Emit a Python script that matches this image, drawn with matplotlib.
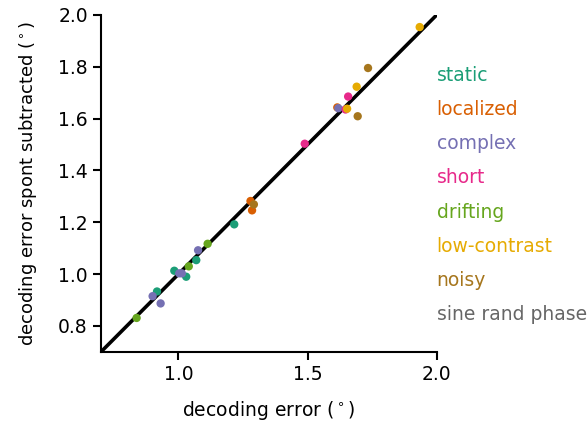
import numpy as np
import matplotlib.pyplot as plt

stim_names = ['static', 'localized', 'complex', 'short', 'drifting',
              'low-contrast', 'noisy', 'sine rand phase']
colors = ['#1b9e77', '#d95f02', '#7570b3', '#e7298a', '#66a61e',
          '#e6ab02', '#a6761d', '#666666']

# decoding error (x) and spont-subtracted decoding error (y), per stimulus set
err = {
    'static':          [1.216, 1.069, 0.984, 1.030, 0.917],
    'localized':       [1.279, 1.285, 1.615],
    'complex':         [1.076, 1.003, 1.013, 0.900, 0.931, 1.619],
    'short':           [1.657, 1.647, 1.489],
    'drifting':        [1.113, 1.040, 0.838],
    'low-contrast':    [1.934, 1.690, 1.653],
    'noisy':           [1.734, 1.694, 1.292],
    'sine rand phase': [],
}
err_sub = {
    'static':          [1.192, 1.054, 1.013, 0.990, 0.933],
    'localized':       [1.282, 1.246, 1.643],
    'complex':         [1.092, 1.003, 1.003, 0.915, 0.887, 1.640],
    'short':           [1.685, 1.635, 1.503],
    'drifting':        [1.117, 1.030, 0.831],
    'low-contrast':    [1.953, 1.723, 1.638],
    'noisy':           [1.795, 1.609, 1.269],
    'sine rand phase': [],
}

plt.rcParams['font.size'] = 13.5

fig = plt.figure(figsize=(5.87, 4.25), dpi=100)
ax = fig.add_axes([0.172, 0.172, 0.572, 0.793])

ax.plot([0.7, 2.0], [0.7, 2.0], color='k', lw=2.6, zorder=1)
for k, name in enumerate(stim_names):
    ax.scatter(err[name], err_sub[name], s=36, color=colors[k],
               edgecolors='none', zorder=2)
    ax.text(1.0, 0.819 - 0.101 * k, name, color=colors[k],
            transform=ax.transAxes, va='center', ha='left')

ax.set_xlim(0.7, 2.0)
ax.set_ylim(0.7, 2.0)
ax.set_xticks([1.0, 1.5, 2.0])
ax.set_yticks(np.arange(0.8, 2.01, 0.2))
ax.set_xlabel(r'decoding error ($^\circ$)', labelpad=11)
ax.set_ylabel(r'decoding error spont subtracted ($^\circ$)', labelpad=14,
              fontsize=13)
ax.spines['top'].set_visible(False)
ax.spines['right'].set_visible(False)
ax.spines['left'].set_linewidth(1.5)
ax.spines['bottom'].set_linewidth(1.5)
ax.tick_params(width=1.5, length=6)

fig.savefig('out.png', dpi=100)
